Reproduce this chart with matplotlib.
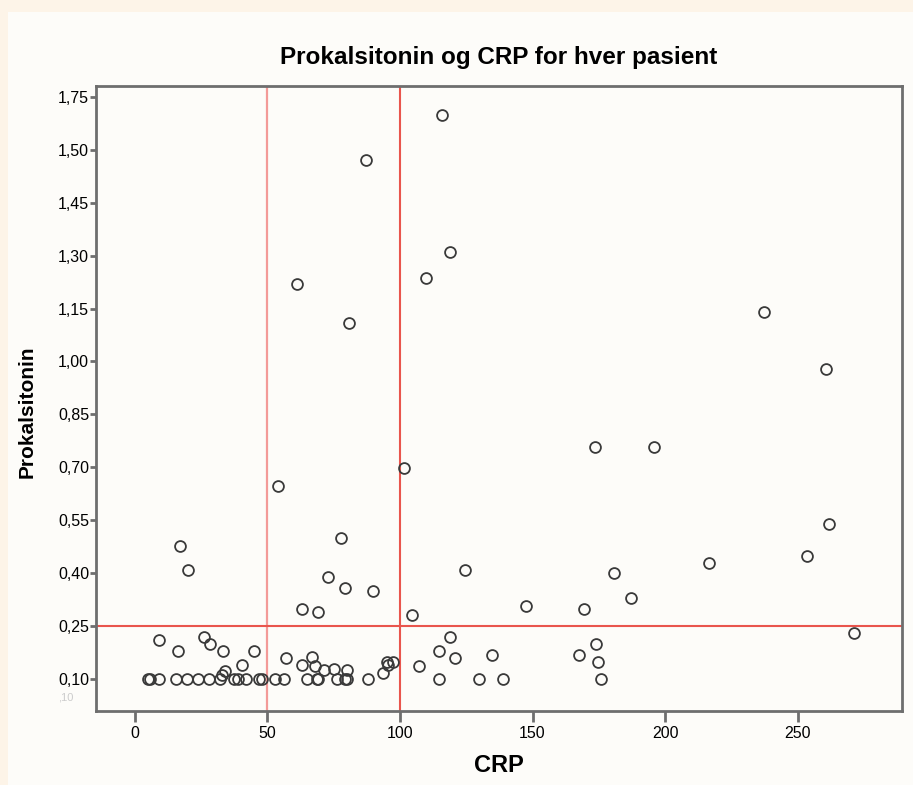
import matplotlib
matplotlib.use("Agg")
import matplotlib.pyplot as plt
from matplotlib.patches import Rectangle

plt.rcParams["font.family"] = ["Liberation Sans", "DejaVu Sans"]

# CRP (x) and prokalsitonin (y) per patient
crp = [
    115.8, 87.2, 118.9, 109.8, 61.1, 80.8, 237.5, 260.8, 173.6, 195.8,
    101.5, 54.0, 261.9, 253.4, 216.6, 77.7, 17.0, 20.0, 72.8, 79.1,
    89.8, 124.5, 180.8, 187.2, 147.6, 169.5, 104.7, 62.9, 69.0, 271.3,
    9.2, 16.1, 26.2, 28.3, 33.1, 45.0, 40.3, 34.0, 32.7, 57.0,
    62.9, 66.9, 67.9, 71.3, 75.2, 79.9, 93.7, 95.0, 97.5, 95.5,
    107.0, 114.8, 118.9, 120.8, 134.8, 167.7, 173.8, 174.8,
    5.0, 5.6, 9.2, 15.5, 19.5, 23.9, 28.0, 32.1, 37.4, 38.8,
    42.0, 46.8, 48.0, 52.8, 56.3, 64.8, 68.6, 69.2, 76.1, 79.2,
    79.9, 88.0, 114.8, 129.8, 138.8, 175.7,
]
pct = [
    1.70, 1.57, 1.31, 1.237, 1.22, 1.109, 1.14, 0.979, 0.758, 0.758,
    0.698, 0.647, 0.54, 0.449, 0.429, 0.50, 0.478, 0.409, 0.389, 0.358,
    0.349, 0.409, 0.40, 0.33, 0.307, 0.298, 0.28, 0.298, 0.289, 0.23,
    0.209, 0.179, 0.22, 0.198, 0.179, 0.179, 0.14, 0.123, 0.111, 0.16,
    0.14, 0.161, 0.138, 0.126, 0.128, 0.124, 0.116, 0.149, 0.149, 0.14,
    0.138, 0.179, 0.218, 0.159, 0.169, 0.169, 0.199, 0.149,
    0.10, 0.10, 0.10, 0.10, 0.10, 0.10, 0.10, 0.10, 0.10, 0.10,
    0.10, 0.10, 0.10, 0.10, 0.10, 0.10, 0.10, 0.10, 0.10, 0.10,
    0.10, 0.10, 0.10, 0.10, 0.10, 0.10,
]

x_ticks = [0, 50, 100, 150, 200, 250]
y_ticks = [0.10, 0.25, 0.40, 0.55, 0.70, 0.85, 1.00, 1.15, 1.30, 1.45, 1.60, 1.75]
# tick labels as printed in the original (including its "1,50")
y_labels = ["0,10", "0,25", "0,40", "0,55", "0,70", "0,85", "1,00", "1,15",
            "1,30", "1,45", "1,50", "1,75"]

fig = plt.figure(figsize=(9.13, 7.85), dpi=100)
fig.patch.set_facecolor("#fdf4e8")
# white-ish panel behind the chart
fig.patches.append(Rectangle((8 / 913, 0), 1, 1 - 12 / 785, transform=fig.transFigure,
                             facecolor="#fdfcf9", edgecolor="none", zorder=-10))

ax = fig.add_axes([96 / 913, 1 - 711 / 785, (902 - 96) / 913, (711 - 86) / 785])
ax.set_facecolor("#fdfcf9")

# cut-off lines
ax.axvline(50, color="#f39a98", lw=1.6, zorder=1)
ax.axvline(100, color="#e9554d", lw=1.5, zorder=1)
ax.axhline(0.25, color="#e9554d", lw=1.5, zorder=1)

ax.plot(crp, pct, linestyle="None", marker="o", markersize=7.8,
        markerfacecolor="none", markeredgecolor="#3a3a3a", markeredgewidth=1.3, zorder=3)

ax.set_xlim(-14.7, 289.4)
ax.set_ylim(0.009, 1.781)
ax.set_xticks(x_ticks)
ax.set_yticks(y_ticks)
ax.set_yticklabels(y_labels)

for s in ax.spines.values():
    s.set_color("#6e6e6e")
    s.set_linewidth(2)
ax.tick_params(axis="x", length=8, width=2, color="#6e6e6e", labelsize=11.5, pad=3)
ax.tick_params(axis="y", length=4, width=2, color="#6e6e6e", labelsize=11.5, pad=1)

ax.set_title("Prokalsitonin og CRP for hver pasient", fontsize=17.5, fontweight="bold", pad=16)
ax.set_xlabel("CRP", fontsize=17, fontweight="bold", labelpad=9)
ax.set_ylabel("Prokalsitonin", fontsize=15, fontweight="bold")
ax.yaxis.set_label_coords(-0.074, 0.478)

# faint ghost label seen in the original
fig.text(58 / 913, 1 - 700 / 785, ",10", color="#cccccc", fontsize=8)

plt.savefig("out.png", dpi=100, facecolor=fig.get_facecolor())
